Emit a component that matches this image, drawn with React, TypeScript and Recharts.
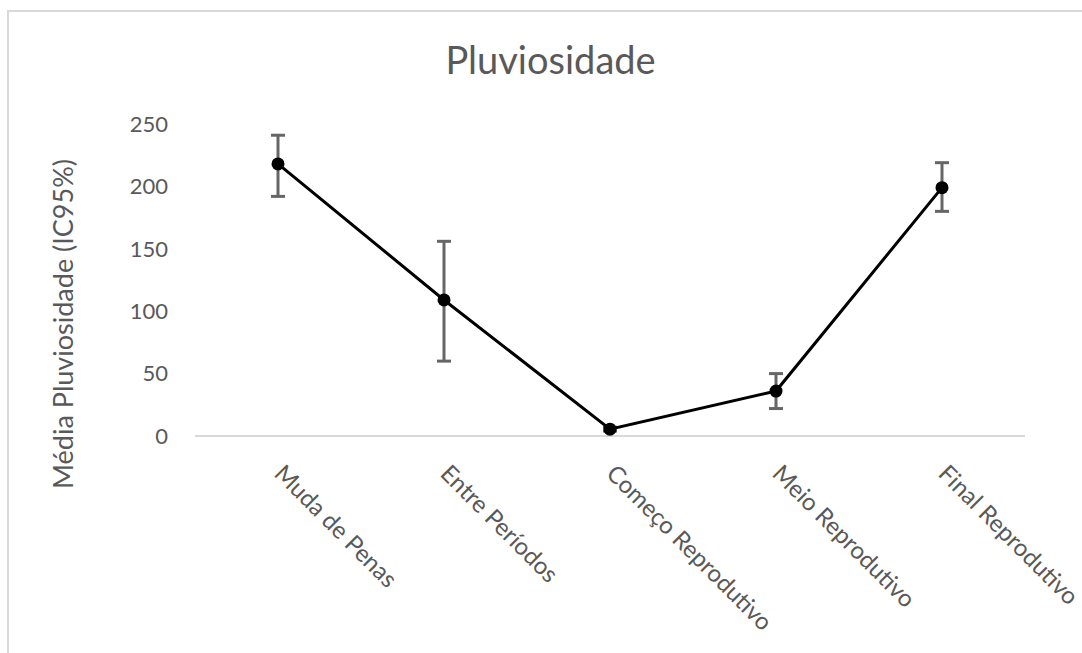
import React from "react";
import { LineChart, Line, XAxis, YAxis, ErrorBar, Label } from "recharts";

// categories and values
const periods = [
  "Muda de Penas",
  "Entre Períodos",
  "Começo Reprodutivo",
  "Meio Reprodutivo",
  "Final Reprodutivo",
];
const means = [218, 109, 5.5, 36, 199];
const lowerCI = [192, 60, 4, 22, 180];
const upperCI = [241, 156, 7, 50, 219];
const yTicks = [0, 50, 100, 150, 200, 250];

const data = periods.map((p, i) => ({
  period: p,
  mean: means[i],
  ci: [means[i] - lowerCI[i], upperCI[i] - means[i]],
}));

const FONT = "Lato, 'Open Sans', sans-serif";
const TEXT = "#595959";

const SlantTick = (props: any) => {
  const { x, y, payload } = props;
  const tx = x - 5;
  const ty = y + 31;
  return (
    <text
      x={tx}
      y={ty}
      transform={`rotate(45, ${tx}, ${ty})`}
      textAnchor="start"
      fill={TEXT}
      fontSize={24}
      fontFamily={FONT}
    >
      {payload.value}
    </text>
  );
};

const App = () => {
  return (
    <div
      style={{
        position: "absolute",
        left: 0,
        top: 0,
        width: 1082,
        height: 653,
        overflow: "hidden",
        background: "#fff",
      }}
    >
      {/* chart frame */}
      <div
        style={{
          position: "absolute",
          left: 7,
          top: 10,
          width: 1200,
          height: 800,
          border: "2px solid #d9d9d9",
        }}
      />
      <div
        style={{
          position: "absolute",
          left: 0,
          top: 37,
          width: 1101,
          textAlign: "center",
          fontFamily: FONT,
          fontSize: 38,
          lineHeight: 1.2,
          color: TEXT,
        }}
      >
        Pluviosidade
      </div>
      <div style={{ position: "absolute", left: 0, top: 0 }}>
        <LineChart
          width={1082}
          height={653}
          data={data}
          margin={{ top: 124, right: 57, left: 0, bottom: 0 }}
        >
          <XAxis
            dataKey="period"
            height={217}
            interval={0}
            padding={{ left: 83, right: 83 }}
            tickLine={false}
            axisLine={{ stroke: "#d9d9d9", strokeWidth: 2 }}
            tick={<SlantTick />}
          />
          <YAxis
            width={195}
            domain={[0, 250]}
            ticks={yTicks}
            axisLine={false}
            tickLine={false}
            tickSize={0}
            tickMargin={27}
            tick={{ fill: TEXT, fontSize: 22, fontFamily: FONT }}
          >
            <Label
              content={() => (
                <text
                  x={62}
                  y={324}
                  transform="rotate(-90, 62, 324)"
                  textAnchor="middle"
                  dominantBaseline="central"
                  fill={TEXT}
                  fontSize={27}
                  fontFamily={FONT}
                >
                  Média Pluviosidade (IC95%)
                </text>
              )}
            />
          </YAxis>
          <Line
            dataKey="mean"
            stroke="#000"
            strokeWidth={3}
            dot={{ r: 6.5, fill: "#000", stroke: "#000", strokeWidth: 0 }}
            isAnimationActive={false}
          >
            <ErrorBar
              dataKey="ci"
              direction="y"
              width={7}
              stroke="#666"
              strokeWidth={3}
              isAnimationActive={false}
            />
          </Line>
        </LineChart>
      </div>
    </div>
  );
};

export default App;
